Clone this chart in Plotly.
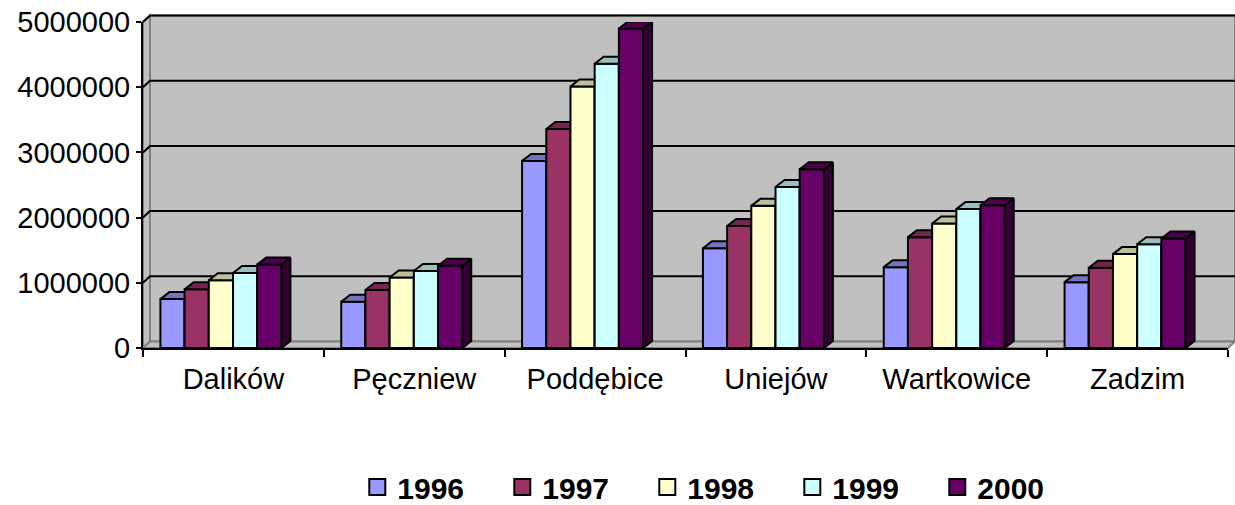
import plotly.graph_objects as go

# ---------------- data ----------------
categories = ["Dalików", "Pęczniew", "Poddębice", "Uniejów", "Wartkowice", "Zadzim"]
years = ["1996", "1997", "1998", "1999", "2000"]
v1996 = [750000, 710000, 2870000, 1530000, 1240000, 1010000]
v1997 = [900000, 890000, 3360000, 1870000, 1700000, 1230000]
v1998 = [1040000, 1080000, 4010000, 2180000, 1910000, 1440000]
v1999 = [1150000, 1180000, 4360000, 2470000, 2130000, 1590000]
v2000 = [1280000, 1260000, 4900000, 2740000, 2190000, 1680000]
series = [v1996, v1997, v1998, v1999, v2000]
y_ticks = [0, 1000000, 2000000, 3000000, 4000000, 5000000]

# ---------------- style ----------------
front_colors = ["#9999FF", "#993366", "#FFFFCC", "#CCFFFF", "#660066"]
top_colors = ["#7373BF", "#73264D", "#BFBF99", "#99BFBF", "#4D004D"]
side_colors = ["#4D4D80", "#4D1A33", "#808066", "#668080", "#330033"]

W, H = 1235, 505
ML, MR, MT, MB = 143, 7, 22, 157
PW, PH = W - ML - MR, H - MT - MB
YMAX = 5000000
NCAT = len(categories)
px_x = PW / NCAT            # pixels per x unit
px_y = PH / YMAX            # pixels per value unit

bar_w = 24.2 / px_x
first_off = -73.0 / px_x
depth_dx = 9.0 / px_x
depth_dy = 7.0 / px_y
wall_dx, wall_dy = 7, 6.5

FONT = "Arial, Liberation Sans, sans-serif"

fig = go.Figure()
xs = list(range(NCAT))

for k, (yr, vals) in enumerate(zip(years, series)):
    yid = "y" if k == 0 else f"y{k + 1}"
    off = first_off + k * bar_w
    fig.add_trace(go.Bar(
        x=xs, y=vals, offset=off, width=bar_w, name=yr, yaxis=yid,
        legendgroup=yr, showlegend=False,
        marker=dict(color=front_colors[k], line=dict(color="black", width=2)),
    ))
    sx, sy, tx, ty = [], [], [], []
    for i, v in enumerate(vals):
        xl = i + off
        xr = xl + bar_w
        sx += [xr, xr, xr + depth_dx, xr + depth_dx, xr, None]
        sy += [0, v, v + depth_dy, depth_dy, 0, None]
        tx += [xl, xr, xr + depth_dx, xl + depth_dx, xl, None]
        ty += [v, v, v + depth_dy, v + depth_dy, v, None]
    fig.add_trace(go.Scatter(x=sx, y=sy, yaxis=yid, mode="lines", fill="toself",
                             fillcolor=side_colors[k], line=dict(color="black", width=2),
                             legendgroup=yr, showlegend=False, hoverinfo="skip"))
    fig.add_trace(go.Scatter(x=tx, y=ty, yaxis=yid, mode="lines", fill="toself",
                             fillcolor=top_colors[k], line=dict(color="black", width=2),
                             legendgroup=yr, showlegend=False, hoverinfo="skip"))
    # legend entry (square swatch like the original legend)
    fig.add_trace(go.Scatter(x=[None], y=[None], mode="markers", name=yr, legendgroup=yr,
                             marker=dict(symbol="square", size=16, color=front_colors[k],
                                         line=dict(color="black", width=2)),
                             hoverinfo="skip"))

shapes = []
# back wall
shapes.append(dict(type="path", layer="below", xref="paper", yref="paper",
                   xsizemode="pixel", ysizemode="pixel", xanchor=0, yanchor=0,
                   path=f"M{wall_dx},{wall_dy} L{PW + wall_dx},{wall_dy} L{PW + wall_dx},{PH + wall_dy} L{wall_dx},{PH + wall_dy} Z",
                   fillcolor="#C0C0C0", line=dict(color="#808080", width=2)))
# left side wall
shapes.append(dict(type="path", layer="below", xref="paper", yref="paper",
                   xsizemode="pixel", ysizemode="pixel", xanchor=0, yanchor=0,
                   path=f"M0,0 L{wall_dx},{wall_dy} L{wall_dx},{PH + wall_dy} L0,{PH} Z",
                   fillcolor="#C0C0C0", line=dict(color="#808080", width=2)))
# floor
shapes.append(dict(type="path", layer="below", xref="paper", yref="paper",
                   xsizemode="pixel", ysizemode="pixel", xanchor=0, yanchor=0,
                   path=f"M0,0 L{PW},0 L{PW + wall_dx},{wall_dy} L{wall_dx},{wall_dy} Z",
                   fillcolor="#C0C0C0", line=dict(color="#808080", width=2)))
# gridlines on the walls
for t in y_ticks[1:]:
    shapes.append(dict(type="path", layer="below", xref="paper", yref="paper",
                       xsizemode="pixel", ysizemode="pixel", xanchor=0, yanchor=t / YMAX,
                       path=f"M0,0 L{wall_dx},{wall_dy} L{PW + wall_dx},{wall_dy}",
                       line=dict(color="black", width=2)))

layout = dict(
    width=W, height=H,
    margin=dict(l=ML, r=MR, t=MT, b=MB, autoexpand=False),
    paper_bgcolor="white", plot_bgcolor="rgba(0,0,0,0)",
    barmode="overlay",
    showlegend=True,
    font=dict(family=FONT, color="black"),
    xaxis=dict(range=[-0.5, NCAT - 0.5], tickvals=xs, ticktext=categories,
               ticks="", showgrid=False, zeroline=False, showline=True,
               linecolor="black", linewidth=2, tickfont=dict(size=29, family=FONT),
               minor=dict(tickvals=[i - 0.5 for i in range(NCAT + 1)], ticks="outside",
                          ticklen=7, tickwidth=2, tickcolor="black", showgrid=False),
               ticklabelstandoff=4, automargin=False, fixedrange=True),
    yaxis=dict(range=[0, YMAX], tickvals=y_ticks, tickformat="d", ticks="outside",
               ticklen=5, tickwidth=2, tickcolor="black", showgrid=False, zeroline=False,
               showline=True, linecolor="black", linewidth=2,
               tickfont=dict(size=29, family=FONT), automargin=False, fixedrange=True),
    legend=dict(orientation="h", xref="paper", x=0.1975, xanchor="left",
                yref="container", y=(H - 487) / H, yanchor="middle",
                font=dict(size=30, family=FONT, weight="bold"),
                entrywidth=100, entrywidthmode="pixels", itemclick=False,
                bgcolor="rgba(0,0,0,0)"),
    shapes=shapes,
)
for k in range(1, len(years)):
    layout[f"yaxis{k + 1}"] = dict(range=[0, YMAX], overlaying="y", visible=False, fixedrange=True)

fig.update_layout(**layout)
fig.write_html("out.html", config={"displayModeBar": False},
               post_script="document.body.style.margin='0';document.body.style.padding='0';")
